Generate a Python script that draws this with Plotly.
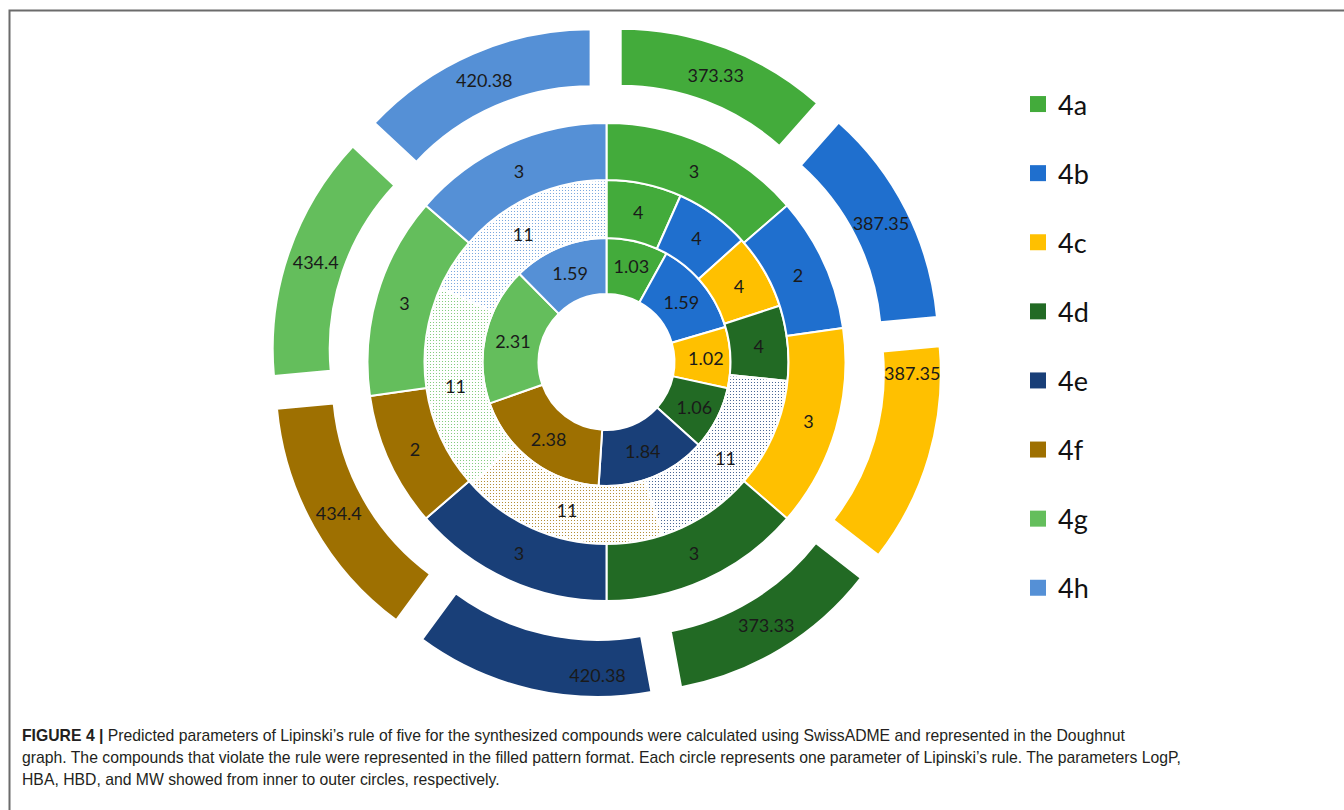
import plotly.graph_objects as go

# Compounds and Lipinski parameters (inner -> outer ring)
compounds = ["4a", "4b", "4c", "4d", "4e", "4f", "4g", "4h"]
logp = [1.03, 1.59, 1.02, 1.06, 1.84, 2.38, 2.31, 1.59]
hba = [4, 4, 4, 4, 11, 11, 11, 11]
hbd = [3, 2, 3, 3, 3, 2, 3, 3]
mw = [373.33, 387.35, 387.35, 373.33, 420.38, 434.4, 434.4, 420.38]

# HBA above 10 violates the rule -> drawn with a dotted pattern
hba_violation = [v > 10 for v in hba]

colors = ["#43AB3B", "#1F6FCE", "#FFC000", "#226A24",
          "#193F78", "#9E7001", "#64BE5C", "#5590D6"]

caption_lines = [
    "<b>FIGURE 4 |</b> Predicted parameters of Lipinski\u2019s rule of five for the synthesized compounds "
    "were calculated using SwissADME and represented in the Doughnut",
    "graph. The compounds that violate the rule were represented in the filled pattern format. "
    "Each circle represents one parameter of Lipinski\u2019s rule. The parameters LogP,",
    "HBA, HBD, and MW showed from inner to outer circles, respectively.",
]

W, H = 1344, 810
CX, CY = 606.5, 362.0
RADII = [68, 124, 182, 239, 296]
OUTER_PULL = 0.135

LABEL_FONT = dict(family="Lato, Carlito, Calibri, sans-serif", size=18, color="#1a1a1a")


def ring_domain(r_outer, pull=0.0):
    half = r_outer * (1 + pull)
    return dict(x=[(CX - half) / W, (CX + half) / W],
                y=[1 - (CY + half) / H, 1 - (CY - half) / H])


def ring(values, level, pull=0.0, pattern=None):
    r_in, r_out = RADII[level], RADII[level + 1]
    marker = dict(colors=colors, line=dict(color="white", width=2))
    if pattern is not None:
        marker["pattern"] = pattern
    return go.Pie(
        labels=compounds,
        values=values,
        text=[f"{v:g}" for v in values],
        textinfo="text",
        textposition="inside",
        insidetextorientation="horizontal",
        textfont=LABEL_FONT,
        hole=r_in / r_out,
        sort=False,
        direction="clockwise",
        rotation=0,
        pull=pull,
        marker=marker,
        domain=ring_domain(r_out, pull if pull else 0.0),
        showlegend=False,
        hoverinfo="label+value",
    )


fig = go.Figure()

fig.add_trace(ring(logp, 0))
fig.add_trace(ring(
    hba, 1,
    pattern=dict(
        shape=["." if v else "" for v in hba_violation],
        fgcolor=colors,
        bgcolor="white",
        fillmode="replace",
        size=3,
        solidity=0.1,
    ),
))
fig.add_trace(ring(hbd, 2))
fig.add_trace(ring(mw, 3, pull=OUTER_PULL))

# legend entries
for name, col in zip(compounds, colors):
    fig.add_trace(go.Scatter(
        x=[None], y=[None], mode="markers", name=name, legendgroup=name,
        marker=dict(symbol="square", size=16, color=col),
        showlegend=True,
    ))

annotations = []
for i, line in enumerate(caption_lines):
    annotations.append(dict(
        text=line, x=20 / W, y=1 - (735 + 22 * i) / H,
        xref="paper", yref="paper", xanchor="left", yanchor="middle",
        showarrow=False, align="left",
        font=dict(family="Liberation Sans, Arial, sans-serif",
                  size=15.75, color="#231f20"),
    ))

fig.update_layout(
    width=W, height=H,
    margin=dict(l=0, r=0, t=0, b=0),
    paper_bgcolor="white", plot_bgcolor="white",
    xaxis=dict(visible=False), yaxis=dict(visible=False),
    uniformtext=dict(minsize=18, mode="show"),
    legend=dict(
        x=1018 / W, y=1 - 80 / H, xanchor="left", yanchor="top",
        traceorder="grouped", tracegroupgap=31,
        font=dict(family="Lato, Carlito, Calibri, sans-serif", size=27, color="#111111"),
        bgcolor="rgba(0,0,0,0)", borderwidth=0,
    ),
    annotations=annotations,
    shapes=[dict(
        type="rect", xref="paper", yref="paper",
        x0=9.5 / W, x1=1.02, y0=-0.05, y1=1 - 10.5 / H,
        line=dict(color="#6b6b6b", width=2), fillcolor="rgba(0,0,0,0)", layer="below",
    )],
)

fig.write_html("out.html")
